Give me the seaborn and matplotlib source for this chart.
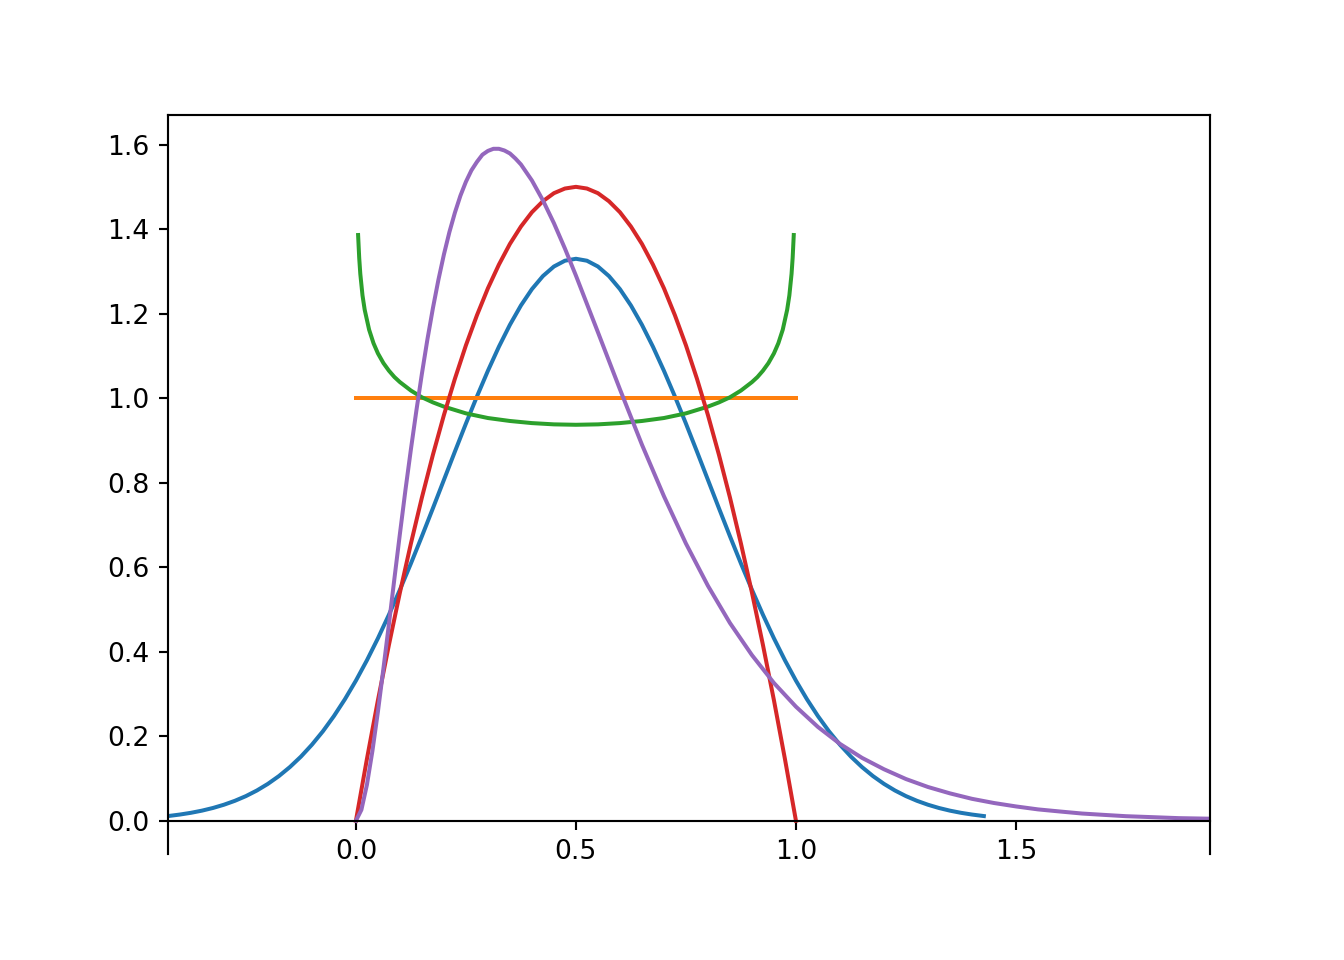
import numpy as np
import pandas as pd
import matplotlib
matplotlib.use("Agg")
import matplotlib.pyplot as plt
import seaborn as sns

# blue curve (bell shape, centred on 0.5)
blue_x = [-0.427, -0.400, -0.375, -0.350, -0.325, -0.300, -0.275, -0.250, -0.225, -0.200,
          -0.175, -0.150, -0.125, -0.100, -0.075, -0.050, -0.025, 0.000, 0.025, 0.050,
          0.075, 0.100, 0.125, 0.150, 0.175, 0.200, 0.225, 0.250, 0.275, 0.300,
          0.325, 0.350, 0.375, 0.400, 0.425, 0.450, 0.475, 0.500, 0.525, 0.550,
          0.575, 0.600, 0.625, 0.650, 0.675, 0.700, 0.725, 0.750, 0.775, 0.800,
          0.825, 0.850, 0.875, 0.900, 0.925, 0.950, 0.975, 1.000, 1.025, 1.050,
          1.075, 1.100, 1.125, 1.150, 1.175, 1.200, 1.225, 1.250, 1.275, 1.300,
          1.325, 1.350, 1.375, 1.400, 1.427]
blue_y = [0.0112, 0.0148, 0.0189, 0.0240, 0.0303, 0.0380, 0.0473, 0.0584, 0.0717, 0.0874,
          0.1058, 0.1272, 0.1518, 0.1800, 0.2118, 0.2477, 0.2876, 0.3316, 0.3797, 0.4317,
          0.4875, 0.5467, 0.6088, 0.6733, 0.7395, 0.8066, 0.8737, 0.9398, 1.0038, 1.0648,
          1.1218, 1.1736, 1.2193, 1.2580, 1.2889, 1.3115, 1.3252, 1.3298, 1.3252, 1.3115,
          1.2889, 1.2580, 1.2193, 1.1736, 1.1218, 1.0648, 1.0038, 0.9398, 0.8737, 0.8066,
          0.7395, 0.6733, 0.6088, 0.5467, 0.4875, 0.4317, 0.3797, 0.3316, 0.2876, 0.2477,
          0.2118, 0.1800, 0.1518, 0.1272, 0.1058, 0.0874, 0.0717, 0.0584, 0.0473, 0.0380,
          0.0303, 0.0240, 0.0189, 0.0148, 0.0112]

# orange flat line
orange_x = [0.0, 1.0]
orange_y = [1.0, 1.0]

# green U-shaped curve
green_x = [0.005, 0.0075, 0.01, 0.015, 0.02, 0.03, 0.04, 0.05, 0.0625, 0.075,
           0.0875, 0.10, 0.125, 0.15, 0.175, 0.20, 0.25, 0.30, 0.35, 0.40,
           0.45, 0.50, 0.55, 0.60, 0.65, 0.70, 0.75, 0.80, 0.825, 0.85,
           0.875, 0.90, 0.9125, 0.925, 0.9375, 0.95, 0.96, 0.97, 0.98, 0.985,
           0.99, 0.9925, 0.995]
green_y = [1.386, 1.332, 1.294, 1.243, 1.209, 1.162, 1.130, 1.106, 1.083, 1.065,
           1.050, 1.038, 1.018, 1.002, 0.990, 0.980, 0.964, 0.953, 0.946, 0.941,
           0.938, 0.937, 0.938, 0.941, 0.946, 0.953, 0.964, 0.980, 0.990, 1.002,
           1.018, 1.038, 1.050, 1.065, 1.083, 1.106, 1.130, 1.162, 1.209, 1.243,
           1.294, 1.332, 1.386]

# red parabola
red_x = [0.000, 0.025, 0.050, 0.075, 0.100, 0.125, 0.150, 0.175, 0.200, 0.225,
         0.250, 0.275, 0.300, 0.325, 0.350, 0.375, 0.400, 0.425, 0.450, 0.475,
         0.500, 0.525, 0.550, 0.575, 0.600, 0.625, 0.650, 0.675, 0.700, 0.725,
         0.750, 0.775, 0.800, 0.825, 0.850, 0.875, 0.900, 0.925, 0.950, 0.975,
         1.000]
red_y = [0.000, 0.146, 0.285, 0.416, 0.540, 0.656, 0.765, 0.866, 0.960, 1.046,
         1.125, 1.196, 1.260, 1.316, 1.365, 1.406, 1.440, 1.466, 1.485, 1.496,
         1.500, 1.496, 1.485, 1.466, 1.440, 1.406, 1.365, 1.316, 1.260, 1.196,
         1.125, 1.046, 0.960, 0.866, 0.765, 0.656, 0.540, 0.416, 0.285, 0.146,
         0.000]

# purple skewed curve with long right tail
purple_x = [0.0, 0.0125, 0.025, 0.0375, 0.05, 0.0625, 0.075, 0.0875, 0.10, 0.1125,
            0.125, 0.1375, 0.15, 0.1625, 0.175, 0.1875, 0.20, 0.2125, 0.225, 0.2375,
            0.25, 0.2625, 0.275, 0.2875, 0.30, 0.3125, 0.325, 0.3375, 0.35, 0.3625,
            0.375, 0.40, 0.425, 0.45, 0.475, 0.50, 0.55, 0.60, 0.65, 0.70,
            0.75, 0.80, 0.85, 0.90, 0.95, 1.00, 1.05, 1.10, 1.15, 1.20,
            1.25, 1.30, 1.35, 1.40, 1.45, 1.50, 1.55, 1.60, 1.65, 1.70,
            1.75, 1.80, 1.87, 1.94]
purple_y = [0.000, 0.026, 0.085, 0.165, 0.258, 0.360, 0.465, 0.573, 0.679, 0.782,
            0.879, 0.971, 1.058, 1.139, 1.213, 1.280, 1.340, 1.393, 1.439, 1.479,
            1.512, 1.539, 1.559, 1.576, 1.585, 1.590, 1.590, 1.586, 1.579, 1.567,
            1.553, 1.515, 1.468, 1.414, 1.354, 1.290, 1.156, 1.021, 0.890, 0.768,
            0.656, 0.556, 0.468, 0.392, 0.326, 0.270, 0.222, 0.182, 0.149, 0.122,
            0.0988, 0.080, 0.0649, 0.052, 0.0421, 0.034, 0.027, 0.022, 0.0172, 0.014,
            0.0109, 0.009, 0.0063, 0.005]

fig, ax = plt.subplots(figsize=(7, 5), dpi=192)

series = [
    (blue_x, blue_y, "C0"),
    (orange_x, orange_y, "C1"),
    (green_x, green_y, "C2"),
    (red_x, red_y, "C3"),
    (purple_x, purple_y, "C4"),
]
for xs, ys, col in series:
    df = pd.DataFrame({"x": xs, "y": ys})
    sns.lineplot(data=df, x="x", y="y", color=col, linewidth=1.5, ax=ax,
                 legend=False, estimator=None, sort=False)

# x range spans the data, bottom spine sits on y = 0
ax.margins(x=0)
ax.spines["bottom"].set_position(("data", 0))
ax.set_xlabel("")
ax.set_ylabel("")

fig.savefig("out.png", dpi=192)
